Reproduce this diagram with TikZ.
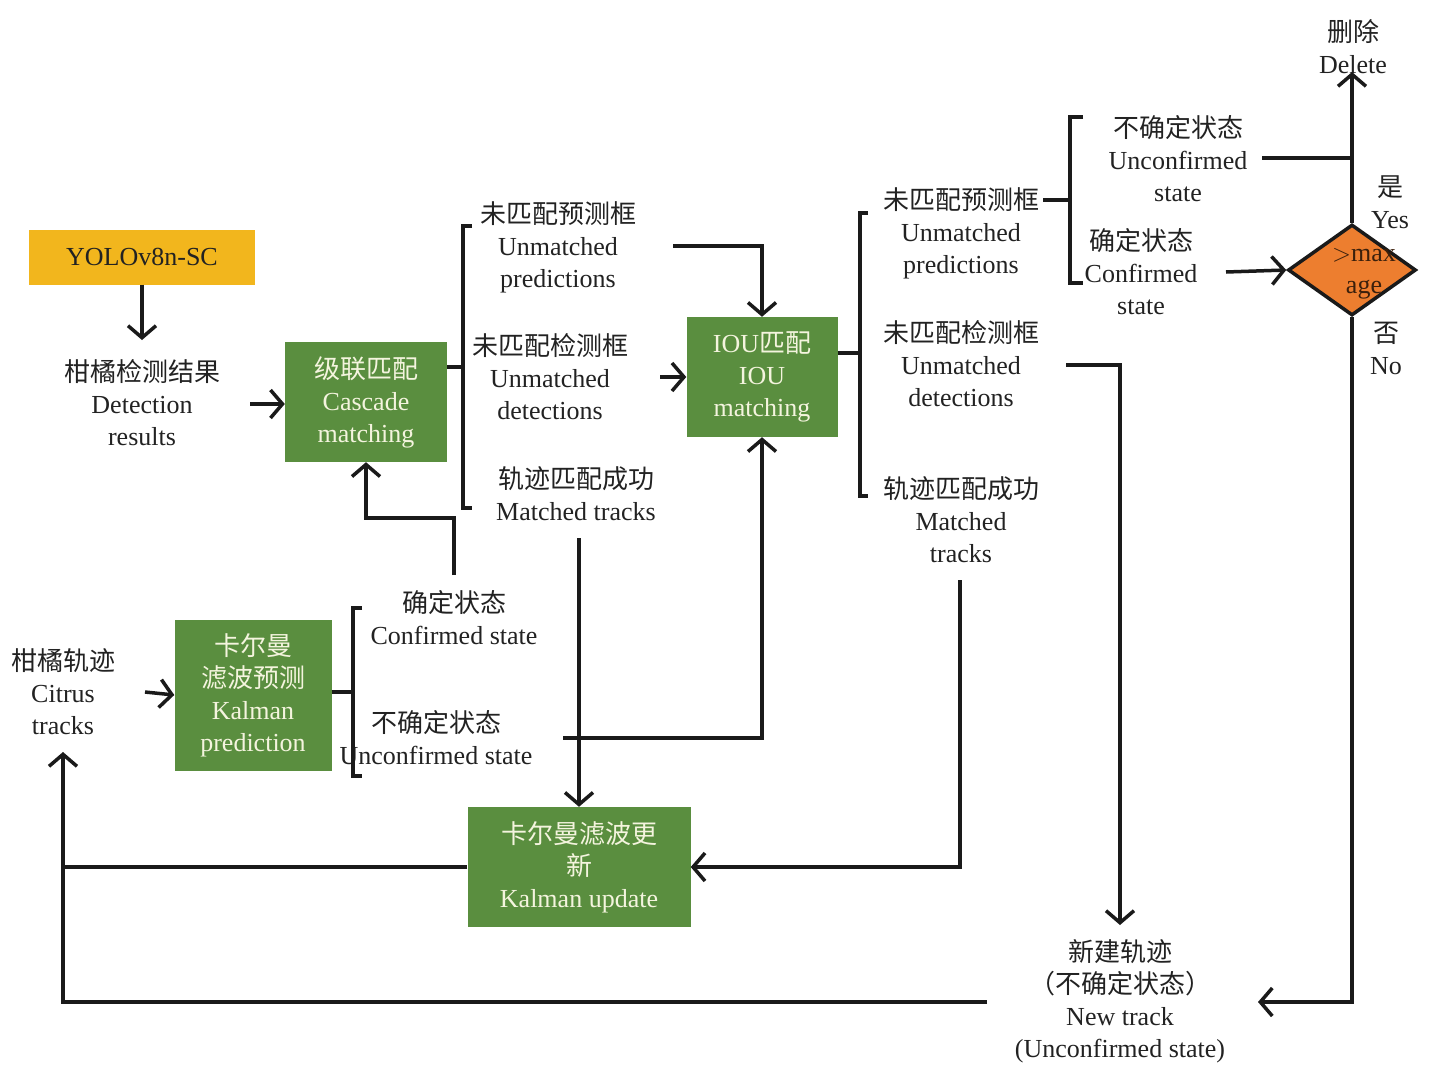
\documentclass[tikz,border=0pt]{standalone}
\usepackage{fontspec}
\setmainfont{Liberation Serif}
\newfontfamily\cjk{Noto Sans CJK SC}
\usetikzlibrary{arrows.meta,shapes.geometric}
\definecolor{ybox}{HTML}{F2B61D}
\definecolor{gbox}{HTML}{5A8E3F}
\definecolor{gtext}{HTML}{F4F4DE}
\definecolor{obox}{HTML}{ED7E2F}
\definecolor{tc}{HTML}{222222}
\definecolor{lc}{HTML}{1A1A1A}
\begin{document}
\begin{tikzpicture}[x=1pt,y=-1pt,
  txt/.style={align=center,text=tc,font=\fontsize{26}{32}\selectfont,inner sep=0pt},
  greenbox/.style={txt,fill=gbox,text=gtext},
  ln/.style={draw=lc,line width=3.5pt},
  arr/.style={ln,-{Straight Barb[length=12pt,width=28pt]}},
  brk/.style={ln,line join=miter}]
\useasboundingbox (0,0) rectangle (1440,1074);

% boxes
\node[txt,fill=ybox,minimum width=226pt,minimum height=55pt] (yolo) at (142,257) {YOLOv8n-SC};
\node[greenbox,minimum width=162pt,minimum height=120pt] (casc) at (366,402) {{\cjk 级联匹配}\\Cascade\\matching};
\node[greenbox,minimum width=151pt,minimum height=120pt] (iou) at (762,377) {IOU{\cjk 匹配}\\IOU\\matching};
\node[greenbox,minimum width=157pt,minimum height=151pt] (kp) at (253,695) {{\cjk 卡尔曼}\\{\cjk 滤波预测}\\Kalman\\prediction};
\node[greenbox,minimum width=223pt,minimum height=120pt] (ku) at (579,867) {{\cjk 卡尔曼滤波更}\\{\cjk 新}\\Kalman update};
\node[diamond,draw=lc,line width=3.5pt,fill=obox,minimum width=128pt,minimum height=91pt,inner sep=0pt] (dia) at (1352,270) {};
\node[txt,text=black!75!obox] (maxage) at (1364,274) {$>$max\\age};

% texts
\node[txt] (det) at (142,403) {{\cjk 柑橘检测结果}\\Detection\\results};
\node[txt] (up1) at (558,247) {{\cjk 未匹配预测框}\\Unmatched\\predictions};
\node[txt] (ud1) at (550,377) {{\cjk 未匹配检测框}\\Unmatched\\detections};
\node[txt] (mt1) at (576,494) {{\cjk 轨迹匹配成功}\\Matched tracks};
\node[txt] (up2) at (961,233) {{\cjk 未匹配预测框}\\Unmatched\\predictions};
\node[txt] (ud2) at (961,364) {{\cjk 未匹配检测框}\\Unmatched\\detections};
\node[txt] (mt2) at (961,520) {{\cjk 轨迹匹配成功}\\Matched\\tracks};
\node[txt] (unc) at (1178,159) {{\cjk 不确定状态}\\Unconfirmed\\state};
\node[txt] (conf) at (1141,272) {{\cjk 确定状态}\\Confirmed\\state};
\node[txt] (del) at (1353,47) {{\cjk 删除}\\Delete};
\node[txt] (yes) at (1390,202) {{\cjk 是}\\Yes};
\node[txt] (no) at (1386,348) {{\cjk 否}\\No};
\node[txt] (newt) at (1120,1001) {{\cjk 新建轨迹}\\{\cjk （不确定状态）}\\New track\\(Unconfirmed state)};
\node[txt] (cit) at (63,692) {{\cjk 柑橘轨迹}\\Citrus\\tracks};
\node[txt] (cs) at (454,618) {{\cjk 确定状态}\\Confirmed state};
\node[txt] (us) at (436,738) {{\cjk 不确定状态}\\Unconfirmed state};

% coordinates
\coordinate (a1e) at (142,340);
\coordinate (a2s) at (250,404);
\coordinate (br1m) at (463,367);
\coordinate (a4s) at (673,246);
\coordinate (a5s) at (660,377);
\coordinate (a6s) at (579,538);
\coordinate (a7s) at (563,738);
\coordinate (br2m) at (860,353);
\coordinate (a9s) at (1043,200);
\coordinate (br3m) at (1070,200);
\coordinate (a10s) at (1262,158);
\coordinate (j1) at (1352,158);
\coordinate (a11e) at (1352,72);
\coordinate (a12s) at (1226,272);
\coordinate (a13e) at (1258,1002);
\coordinate (a14s) at (1066,365);
\coordinate (a14e) at (1120,925);
\coordinate (a15s) at (960,580);
\coordinate (j2) at (63,867);
\coordinate (a17s) at (987,1002);
\coordinate (a17e) at (63,752);
\coordinate (a18s) at (145,692);
\coordinate (br4m) at (353,692);
\coordinate (a20s) at (454,575);
\coordinate (a20b) at (454,518);

% brackets
\draw[brk] (472,226) -- (463,226) -- (463,508) -- (472,508);
\draw[brk] (868,213) -- (860,213) -- (860,496) -- (868,496);
\draw[brk] (1083,117) -- (1070,117) -- (1070,283) -- (1083,283);
\draw[brk] (362,608) -- (353,608) -- (353,776) -- (362,776);

% connectors
\draw[arr] (yolo.south) -- (a1e);
\draw[arr] (a2s) -- (casc.west |- a2s);
\draw[ln] (casc.east |- br1m) -- (br1m);
\draw[arr] (a4s) -| (iou.north);
\draw[arr] (a5s) -- (iou.west);
\draw[arr] (a6s) -- (ku.north);
\draw[arr] (a7s) -| (iou.south);
\draw[ln] (iou.east |- br2m) -- (br2m);
\draw[ln] (a9s) -- (br3m);
\draw[ln] (a10s) -- (j1);
\draw[arr] (dia.north) -- (a11e);
\draw[arr] (a12s) -- (dia.west);
\draw[arr] (dia.south) |- (a13e);
\draw[arr] (a14s) -| (a14e);
\draw[arr] (a15s) |- (ku.east);
\draw[ln] (ku.west) -- (j2);
\draw[arr] (a17s) -| (a17e);
\draw[arr] (a18s) -- (kp.west);
\draw[ln] (kp.east |- br4m) -- (br4m);
\draw[arr] (a20s) -- (a20b) -| (casc.south);
\end{tikzpicture}
\end{document}
